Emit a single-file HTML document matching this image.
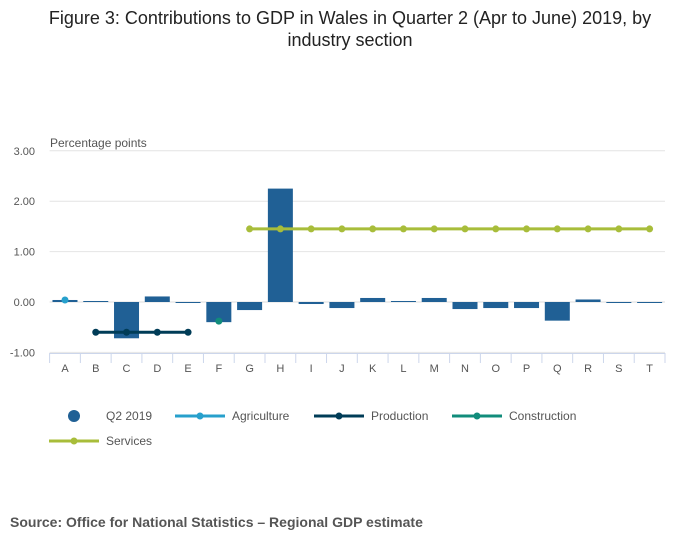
<!DOCTYPE html>
<html><head><meta charset="utf-8"><style>
body{margin:0;background:#fff;font-family:"Liberation Sans",sans-serif;}
svg text{font-family:"Liberation Sans",sans-serif;}
</style></head><body>
<svg width="700" height="549" id="c">
<text x="350" y="24" text-anchor="middle" font-size="18" fill="#222">Figure 3: Contributions to GDP in Wales in Quarter 2 (Apr to June) 2019, by</text>
<text x="350" y="46" text-anchor="middle" font-size="18" fill="#222">industry section</text>
<text x="50" y="147" font-size="12" fill="#555">Percentage points</text>
<text x="10" y="527" font-size="14" font-weight="bold" fill="#555">Source: Office for National Statistics – Regional GDP estimate</text>
<g id="grid"></g><g id="bars"></g><g id="lines"></g><g id="xaxis"></g><g id="legend"></g>
</svg>
<script>
const categories=["A","B","C","D","E","F","G","H","I","J","K","L","M","N","O","P","Q","R","S","T"];
const q2Values=[0.04,0.02,-0.72,0.11,-0.02,-0.4,-0.16,2.25,-0.04,-0.12,0.08,0.02,0.08,-0.14,-0.12,-0.12,-0.37,0.05,-0.02,0.0];
const agriculture=[0.04,null,null,null,null,null,null,null,null,null,null,null,null,null,null,null,null,null,null,null];
const production=[null,-0.6,-0.6,-0.6,-0.6,null,null,null,null,null,null,null,null,null,null,null,null,null,null,null];
const construction=[null,null,null,null,null,-0.38,null,null,null,null,null,null,null,null,null,null,null,null,null,null];
const services=[null,null,null,null,null,null,1.45,1.45,1.45,1.45,1.45,1.45,1.45,1.45,1.45,1.45,1.45,1.45,1.45,1.45];
const yTicks=[3,2,1,0,-1];
const yTickLabels=["3.00","2.00","1.00","0.00","-1.00"];
const NS="http://www.w3.org/2000/svg";
const L=49.6,R=665,bw=(R-L)/categories.length;
const y=v=>302-v*50.4;
const x=i=>L+bw*(i+0.5);
function mk(t,a,p){const e=document.createElementNS(NS,t);for(const k in a)e.setAttribute(k,a[k]);p.appendChild(e);return e;}
const g=document.getElementById('grid');
yTicks.forEach((v,i)=>{
 const ln=mk('line',{x1:L,x2:R,y1:y(v),y2:y(v),stroke:v===0?'#ddd':'#e4e4e4','stroke-width':1},g);
 
 
 const t=mk('text',{x:35,y:y(v)+4,'text-anchor':'end','font-size':11,fill:'#555'},g);
 t.textContent=yTickLabels[i];
 
 
});
const xa=document.getElementById('xaxis');
const ax=mk('line',{x1:L,x2:R,y1:353.5,y2:353.5,stroke:'#ccd6eb'},xa);


for(let i=0;i<=categories.length;i++){
 const tk=mk('line',{x1:L+bw*i,x2:L+bw*i,y1:353,y2:363,stroke:'#ccd6eb'},xa);
 
 
}
categories.forEach((c,i)=>{
 const t=mk('text',{x:x(i),y:372,'text-anchor':'middle','font-size':11,fill:'#555'},xa);
 t.textContent=c;
 
 
});
const bg=document.getElementById('bars');
q2Values.forEach((v,i)=>{
 const top=Math.min(y(v),y(0)),h=Math.max(Math.abs(y(v)-y(0)),1);
 const r=mk('rect',{x:x(i)-12.5,y:top,width:25,height:h,fill:'#206095'},bg);
 
 
});
const lg=document.getElementById('lines');
function series(arr,col,name){
 const pts=[];arr.forEach((v,i)=>{if(v!==null)pts.push([x(i),y(v)]);});
 if(pts.length>1){const pl=mk('polyline',{points:pts.map(p=>p.join(',')).join(' '),fill:'none',stroke:col,'stroke-width':3},lg);
 
 }
 pts.forEach(p=>{const c=mk('circle',{cx:p[0],cy:p[1],r:3.5,fill:col},lg);
 
 });
}
series(agriculture,'#27a0cc','agriculture');
series(production,'#003c57','production');
series(construction,'#118c7b','construction');
series(services,'#a8bd3a','services');
const lgd=document.getElementById('legend');
const items=[[74,416,'Q2 2019','#206095',true],[175,416,'Agriculture','#27a0cc'],[314,416,'Production','#003c57'],[452,416,'Construction','#118c7b'],[49,441,'Services','#a8bd3a']];
items.forEach(it=>{
 const gg=mk('g',{},lgd);
 
 
 let tx;
 if(it[4]){mk('circle',{cx:it[0],cy:it[1],r:6,fill:it[3]},gg);tx=106;}
 else{mk('line',{x1:it[0],x2:it[0]+50,y1:it[1],y2:it[1],stroke:it[3],'stroke-width':3},gg);mk('circle',{cx:it[0]+25,cy:it[1],r:3.5,fill:it[3]},gg);tx=it[0]+57;}
 const t=mk('text',{x:tx,y:it[1]+4,'font-size':12,fill:'#555'},gg);t.textContent=it[2];
});
</script>
</body></html>
